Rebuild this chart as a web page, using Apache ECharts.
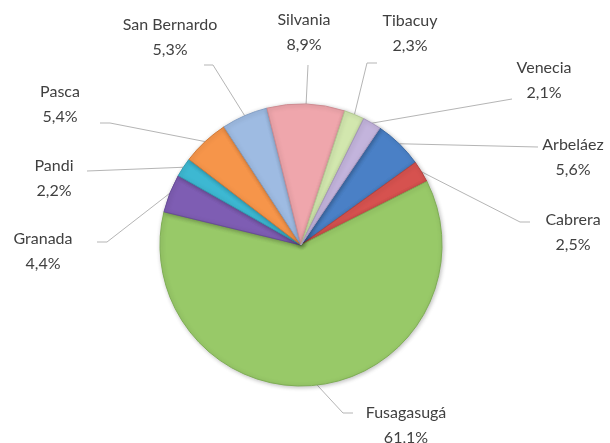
<!DOCTYPE html>
<html>
<head>
<meta charset="utf-8">
<script src="https://cdn.jsdelivr.net/npm/echarts@6/dist/echarts.min.js"></script>
<style>
  html, body { margin: 0; padding: 0; background: #ffffff; }
  #chart { width: 610px; height: 443px; }
</style>
</head>
<body>
<div id="chart"></div>
<script>
// Municipalities and their share (%)
const municipios = ['Arbeláez', 'Cabrera', 'Fusagasugá', 'Granada', 'Pandi', 'Pasca', 'San Bernardo', 'Silvania', 'Tibacuy', 'Venecia'];
const participacion = [5.6, 2.5, 61.1, 4.4, 2.2, 5.4, 5.3, 8.9, 2.3, 2.1];

// Slice fills
const colores = ['#4a80c6', '#d6524f', '#98c968', '#7e5db3', '#3db8d2', '#f6954a', '#9ebbe2', '#efa6ac', '#d2e7ae', '#c3b4dc'];
const bordes  = ['#3d6ca8', '#b34440', '#7fae55', '#684c98', '#329cb3', '#d17b3a', '#84a0c6', '#cf8c92', '#b3c992', '#a696be'];

// Label text centres and leader-line bends
const labelCentres = [
  [573, 157], [573, 232], [406, 425], [43, 251], [54, 178],
  [60, 104], [170, 37], [304, 32], [410, 33], [544, 80]
];
const leaderBends = [
  [[538, 147]],
  [[520, 222], [530, 222]],
  [[330, 399], [343, 413], [353, 413]],
  [[107, 242], [97, 242]],
  [[87, 171]],
  [[110, 123], [100, 123]],
  [[213, 65], [204, 65]],
  [[308, 65]],
  [[367, 63], [377, 63]],
  [[512, 99]]
];

const chart = echarts.init(document.getElementById('chart'), null, { renderer: 'canvas' });

const data = municipios.map((name, i) => ({
  name: name,
  value: participacion[i],
  itemStyle: { color: colores[i], borderColor: bordes[i] }
}));

chart.setOption({
  animation: false,
  backgroundColor: '#ffffff',
  series: [{
    type: 'pie',
    center: [301, 245],
    radius: 141,
    startAngle: 56,
    clockwise: true,
    data: data,
    itemStyle: {
      borderWidth: 1,
      shadowColor: 'rgba(0,0,0,0.25)',
      shadowBlur: 4,
      shadowOffsetX: 1,
      shadowOffsetY: 1
    },
    label: {
      show: true,
      position: 'outside',
      fontFamily: 'Lato',
      fontSize: 16,
      color: '#404040',
      lineHeight: 25,
      align: 'center',
      formatter: p => p.name + '\n' + p.value.toFixed(1).replace('.', ',') + '%'
    },
    labelLine: {
      show: true,
      length: 20,
      length2: 10,
      smooth: false,
      lineStyle: { color: '#b5b5b5', width: 1 }
    },
    labelLayout: function (params) {
      const i = params.dataIndex;
      const c = labelCentres[i];
      const start = params.labelLinePoints ? params.labelLinePoints[0] : null;
      const out = {
        x: c[0],
        y: c[1],
        align: 'center',
        verticalAlign: 'middle'
      };
      if (start) {
        out.labelLinePoints = [start].concat(leaderBends[i]);
      }
      return out;
    },
    emphasis: { disabled: true }
  }]
});
</script>
</body>
</html>
